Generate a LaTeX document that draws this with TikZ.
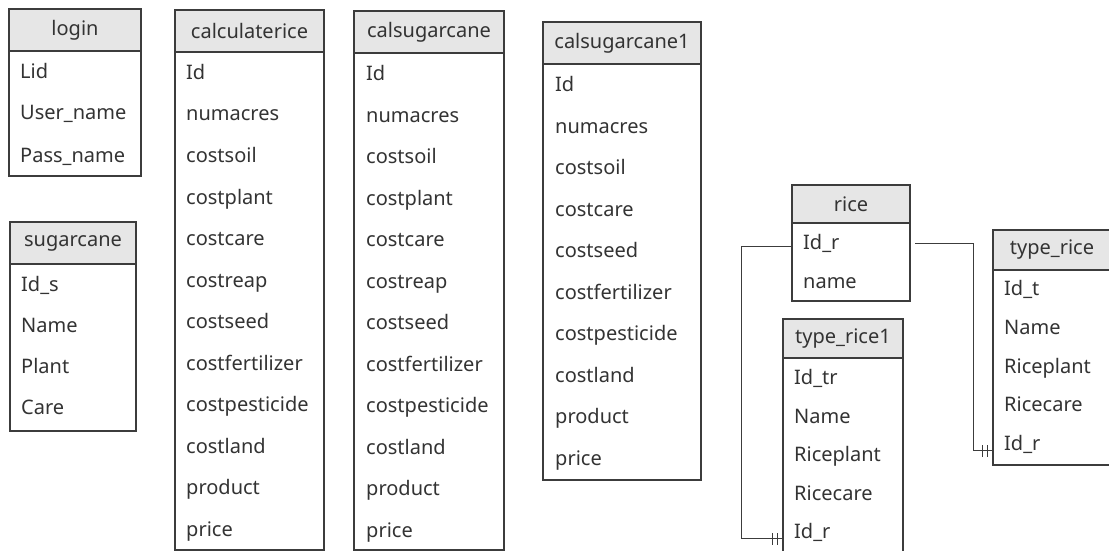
\documentclass[tikz,border=0pt]{standalone}
\usepackage{fontspec}
\setmainfont{Noto Sans}
\usepackage{tikz}
\usetikzlibrary{positioning, calc, decorations.markings}
\definecolor{headgray}{HTML}{E6E6E6}
\definecolor{linegray}{HTML}{3C3C3C}
\definecolor{textgray}{HTML}{333333}

\begin{document}
\begin{tikzpicture}[
    x=1pt, y=-1pt,
    head/.style={rectangle, draw=linegray, fill=headgray, line width=1.2pt, anchor=north west, inner sep=0pt, outer sep=0pt, font=\fontsize{20}{23}\selectfont, text=textgray},
    body/.style={rectangle, draw=linegray, fill=white, line width=1.2pt, inner sep=0pt, outer sep=0pt},
    field/.style={anchor=base west, inner sep=0pt, font=\fontsize{20}{23}\selectfont, text=textgray},
    link/.style={draw=linegray, line width=1pt},
    oneone/.style={postaction={decorate}, decoration={markings,
        mark=at position -6pt with {\draw[linegray, line width=0.9pt] (0pt,-6pt) -- (0pt,6pt);},
        mark=at position -11pt with {\draw[linegray, line width=0.9pt] (0pt,-6pt) -- (0pt,6pt);}}}
]
\useasboundingbox (0,0) rectangle (1109,551);

% login
\node[head, minimum width=132, minimum height=42] (login) at (9,9) {login};
\node[body, minimum width=132, minimum height=125, below=0pt of login] (login-b) {};
\foreach \f [count=\i] in {Lid, User\_name, Pass\_name}
    \node[field] (login-\i) at (20, {78+42*(\i-1)}) {\f};

% sugarcane
\node[head, minimum width=126, minimum height=42] (sugarcane) at (10,222) {sugarcane};
\node[body, minimum width=126, minimum height=167, below=0pt of sugarcane] (sugarcane-b) {};
\foreach \f [count=\i] in {Id\_s, Name, Plant, Care}
    \node[field] (sugarcane-\i) at (21, {291.5+41*(\i-1)}) {\f};

% calculaterice
\node[head, minimum width=149, minimum height=42] (calrice) at (175,10) {calculaterice};
\node[body, minimum width=149, minimum height=498, below=0pt of calrice] (calrice-b) {};
\foreach \f [count=\i] in {Id, numacres, costsoil, costplant, costcare, costreap, costseed, costfertilizer, costpesticide, costland, product, price}
    \node[field] (calrice-\i) at (186, {79.5+41.5*(\i-1)}) {\f};

% calsugarcane
\node[head, minimum width=150, minimum height=42] (calsugar) at (354,11) {calsugarcane};
\node[body, minimum width=150, minimum height=497, below=0pt of calsugar] (calsugar-b) {};
\foreach \f [count=\i] in {Id, numacres, costsoil, costplant, costcare, costreap, costseed, costfertilizer, costpesticide, costland, product, price}
    \node[field] (calsugar-\i) at (366, {80.5+41.5*(\i-1)}) {\f};

% calsugarcane1
\node[head, minimum width=158, minimum height=42] (calsugarone) at (543,22) {calsugarcane1};
\node[body, minimum width=158, minimum height=416, below=0pt of calsugarone] (calsugarone-b) {};
\foreach \f [count=\i] in {Id, numacres, costsoil, costcare, costseed, costfertilizer, costpesticide, costland, product, price}
    \node[field] (calsugarone-\i) at (555, {91.5+41.5*(\i-1)}) {\f};

% rice
\node[head, minimum width=118, minimum height=38] (rice) at (792,185) {rice};
\node[body, minimum width=118, minimum height=78, below=0pt of rice] (rice-b) {};
\foreach \f [count=\i] in {Id\_r, name}
    \node[field] (rice-\i) at (803, {249.5+39*(\i-1)}) {\f};

% type_rice1
\node[head, minimum width=120, minimum height=39] (typerice1) at (783,319) {type\_rice1};
\node[body, minimum width=120, minimum height=240, below=0pt of typerice1] (typerice1-b) {};
\foreach \f [count=\i] in {Id\_tr, Name, Riceplant, Ricecare, Id\_r}
    \node[field] (typerice1-\i) at (794, {384.5+38.5*(\i-1)}) {\f};

% type_rice
\node[head, minimum width=118, minimum height=40] (typerice) at (993,230) {type\_rice};
\node[body, minimum width=118, minimum height=195, below=0pt of typerice] (typerice-b) {};
\foreach \f [count=\i] in {Id\_t, Name, Riceplant, Ricecare, Id\_r}
    \node[field] (typerice-\i) at (1004, {295.5+38.8*(\i-1)}) {\f};

% relations
\draw[link, oneone] ([xshift=5pt, yshift=3pt]rice-1.mid -| rice-b.east) -- ++(58,0) |- (typerice-5.base -| typerice-b.west);
\draw[link, oneone] (rice-1.mid -| rice-b.west) -- ++(-51,0) |- (typerice1-5.base -| typerice1-b.west);

\end{tikzpicture}
\end{document}
